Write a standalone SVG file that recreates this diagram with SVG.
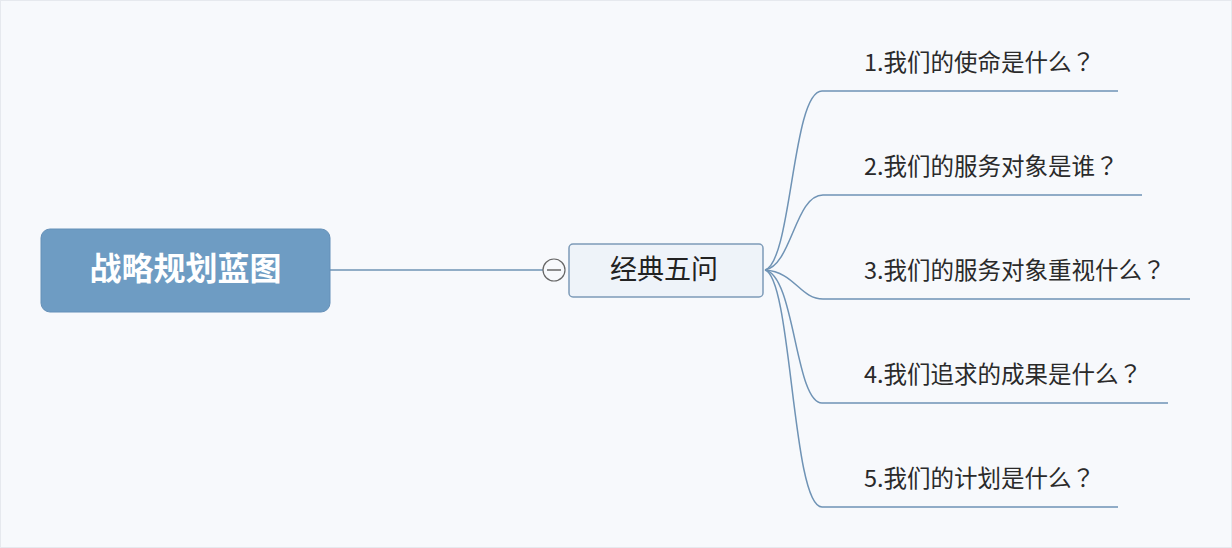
<svg xmlns="http://www.w3.org/2000/svg" width="1232" height="548" viewBox="0 0 1232 548">
<style>
.item{font-family:"Noto Sans CJK SC","Noto Sans",sans-serif;font-size:23.5px;fill:#2a2a2a}
.q{font-family:"Noto Sans CJK TC",sans-serif}
.br{fill:none;stroke:#6f93b5;stroke-width:1.5}
</style>
<rect x="0" y="0" width="1232" height="548" fill="#f7f9fc"/>
<rect x="0.5" y="0.5" width="1231" height="547" fill="none" stroke="#e6e9ee"/>
<g id="connectors">
<line class="br" x1="330" y1="270" x2="543" y2="270"/>
<path class="br" d="M765,270 C792,262 792,91 822,91 L1118,91"/>
<path class="br" d="M765,270 C792,265 795,195 823,195 L1142,195"/>
<path class="br" d="M765,270 C795,272 800,299 823,299 L1190,299"/>
<path class="br" d="M765,270 C795,275 795,403 822,403 L1168,403"/>
<path class="br" d="M765,270 C792,278 792,507 822,507 L1118,507"/>
</g>
<g id="root">
<rect x="41" y="229" width="289" height="83" rx="9" fill="#6e9cc3" stroke="#6590b8"/>
<text x="185.5" y="280" text-anchor="middle" font-family="Noto Sans CJK SC,sans-serif" font-weight="bold" font-size="32" fill="#ffffff">战略规划蓝图</text>
</g>
<g id="collapse">
<circle cx="554" cy="270" r="11" fill="#f7f9fc" stroke="#666" stroke-width="1.2"/>
<line x1="547" y1="270" x2="561" y2="270" stroke="#444" stroke-width="1.2"/>
</g>
<g id="hub">
<rect x="569" y="244" width="194" height="53" rx="4" fill="#eef3f9" stroke="#7d9bb8" stroke-width="1.5"/>
<text x="664" y="279" text-anchor="middle" font-family="Noto Sans CJK SC,sans-serif" font-size="27" fill="#222">经典五问</text>
</g>
<g id="q1"><text class="item" x="864" y="71">1.我们的使命是什么<tspan class="q">？</tspan></text></g>
<g id="q2"><text class="item" x="864" y="175">2.我们的服务对象是谁<tspan class="q">？</tspan></text></g>
<g id="q3"><text class="item" x="864" y="279">3.我们的服务对象重视什么<tspan class="q">？</tspan></text></g>
<g id="q4"><text class="item" x="864" y="383">4.我们追求的成果是什么<tspan class="q">？</tspan></text></g>
<g id="q5"><text class="item" x="864" y="487">5.我们的计划是什么<tspan class="q">？</tspan></text></g>
</svg>
